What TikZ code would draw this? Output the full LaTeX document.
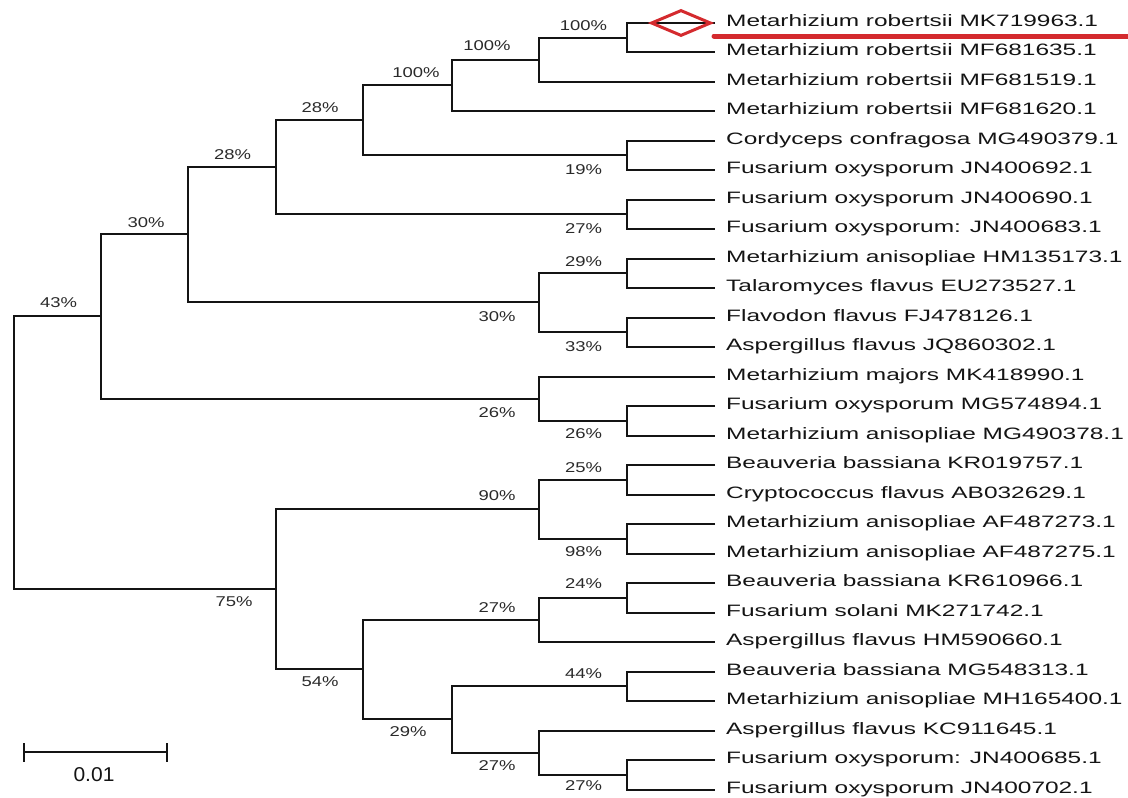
\documentclass[tikz,border=0pt]{standalone}
\usepackage{fontspec}
\setmainfont{Liberation Sans}
\usetikzlibrary{shapes.geometric}
\definecolor{ink}{HTML}{141414}
\definecolor{lab}{HTML}{2A2A2A}
\definecolor{redmark}{HTML}{D42A2E}
\newcommand\lt[1]{\scalebox{1.48}[1]{#1}}
\newcommand\pct[1]{\scalebox{1.3}[1]{#1\%}}
\begin{document}
\begin{tikzpicture}[x=1pt,y=-1pt,
  branch/.style={draw=ink, line width=2pt},
  leaflab/.style={anchor=base west, inner sep=0pt, text=ink, font=\fontsize{16.5}{18}\selectfont},
  bs/.style={inner sep=0pt, text=lab, font=\fontsize{14.2}{16}\selectfont},
]
\useasboundingbox (0,0) rectangle (1128,798);
% leaf end points and labels
\foreach \i/\y/\t in {0/23/{Metarhizium robertsii MK719963.1},1/52/{Metarhizium robertsii MF681635.1},2/82/{Metarhizium robertsii MF681519.1},3/111/{Metarhizium robertsii MF681620.1},4/141/{Cordyceps confragosa MG490379.1},5/170/{Fusarium oxysporum JN400692.1},6/200/{Fusarium oxysporum JN400690.1},7/229/{Fusarium oxysporum: JN400683.1},8/259/{Metarhizium anisopliae HM135173.1},9/288/{Talaromyces flavus EU273527.1},10/318/{Flavodon flavus FJ478126.1},11/347/{Aspergillus flavus JQ860302.1},12/377/{Metarhizium majors MK418990.1},13/406/{Fusarium oxysporum MG574894.1},14/436/{Metarhizium anisopliae MG490378.1},15/465/{Beauveria bassiana KR019757.1},16/495/{Cryptococcus flavus AB032629.1},17/524/{Metarhizium anisopliae AF487273.1},18/554/{Metarhizium anisopliae AF487275.1},19/583/{Beauveria bassiana KR610966.1},20/613/{Fusarium solani MK271742.1},21/642/{Aspergillus flavus HM590660.1},22/672/{Beauveria bassiana MG548313.1},23/701/{Metarhizium anisopliae MH165400.1},24/731/{Aspergillus flavus KC911645.1},25/760/{Fusarium oxysporum: JN400685.1},26/790/{Fusarium oxysporum JN400702.1}}{
  \coordinate (e\i) at (715,\y);
  \node[leaflab] (l\i) at (726,{\y+3.5}) {\lt{\t}};
}
% internal nodes
\coordinate (A) at (627,38);
\coordinate (B) at (539,60);
\coordinate (C) at (452,85);
\coordinate (D) at (627,155);
\coordinate (E) at (363,120);
\coordinate (F) at (627,214);
\coordinate (G) at (276,167);
\coordinate (H) at (627,273);
\coordinate (I) at (627,332);
\coordinate (J) at (539,302);
\coordinate (K) at (188,234);
\coordinate (L) at (627,421);
\coordinate (M) at (539,399);
\coordinate (N) at (101,316);
\coordinate (O) at (627,480);
\coordinate (P) at (627,539);
\coordinate (Q) at (539,509);
\coordinate (R) at (627,598);
\coordinate (S) at (539,620);
\coordinate (T) at (627,686);
\coordinate (U) at (627,775);
\coordinate (V) at (539,753);
\coordinate (W) at (452,719);
\coordinate (X) at (363,669);
\coordinate (Y) at (276,589);
\coordinate (Z) at (14,452);
% branches
\foreach \p/\a/\b in {A/e0/e1, B/A/e2, C/B/e3, D/e4/e5, E/C/D, F/e6/e7, G/E/F, H/e8/e9, I/e10/e11, J/H/I, K/G/J, L/e13/e14, M/e12/L, N/K/M, O/e15/e16, P/e17/e18, Q/O/P, R/e19/e20, S/R/e21, T/e22/e23, U/e25/e26, V/e24/U, W/T/V, X/S/W, Y/Q/X, Z/N/Y}{
  \draw[branch] (\a) -| (\p) |- (\b);
}
% bootstrap labels
\node[bs] (bA) at (583.5,25.5) {\pct{100}};
\node[bs] (bB) at (487,46) {\pct{100}};
\node[bs] (bC) at (416,73) {\pct{100}};
\node[bs] (bD) at (583.5,170) {\pct{19}};
\node[bs] (bE) at (320,108) {\pct{28}};
\node[bs] (bF) at (583.5,229) {\pct{27}};
\node[bs] (bG) at (232.5,155) {\pct{28}};
\node[bs] (bH) at (583.5,261.5) {\pct{29}};
\node[bs] (bI) at (583.5,346.5) {\pct{33}};
\node[bs] (bJ) at (497,317) {\pct{30}};
\node[bs] (bK) at (146,222.5) {\pct{30}};
\node[bs] (bL) at (583.5,433.5) {\pct{26}};
\node[bs] (bM) at (497,413) {\pct{26}};
\node[bs] (bN) at (58.5,302.5) {\pct{43}};
\node[bs] (bO) at (583.5,467.5) {\pct{25}};
\node[bs] (bP) at (583.5,551.5) {\pct{98}};
\node[bs] (bQ) at (497,495.5) {\pct{90}};
\node[bs] (bR) at (583.5,584) {\pct{24}};
\node[bs] (bS) at (497,608) {\pct{27}};
\node[bs] (bT) at (583.5,674) {\pct{44}};
\node[bs] (bU) at (583.5,786) {\pct{27}};
\node[bs] (bV) at (497,765.5) {\pct{27}};
\node[bs] (bW) at (408,732) {\pct{29}};
\node[bs] (bX) at (320,682) {\pct{54}};
\node[bs] (bY) at (234,601.5) {\pct{75}};
% highlight of the query sequence
\node[diamond, draw=redmark, line width=3pt, inner sep=0pt, minimum width=60pt, minimum height=26pt] (hl) at (681,23) {};
\coordinate (u1) at (714,36);
\coordinate (u2) at (1128,36);
\draw[redmark, line width=5pt, line cap=round] (u1) -- (u2);
% scale bar
\coordinate (s1) at (24,752);
\coordinate (s2) at (167,752);
\draw[ink, line width=2.4pt] (s1) -- (s2);
\draw[ink, line width=2.4pt] ([yshift=-9.5pt]s1) -- ([yshift=9.5pt]s1);
\draw[ink, line width=2.4pt] ([yshift=-9.5pt]s2) -- ([yshift=9.5pt]s2);
\node[inner sep=0pt, text=ink, font=\fontsize{20}{22}\selectfont] (sl) at (94,775) {\scalebox{1.05}[1]{0.01}};
\end{tikzpicture}
\end{document}
